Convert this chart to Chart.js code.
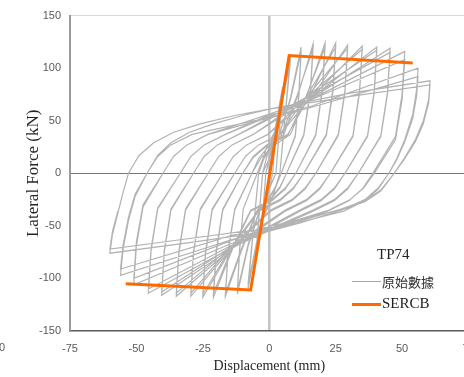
<!DOCTYPE html>
<html lang="zh-Hant">
<head>
  <meta charset="UTF-8">
  <title>TP74 hysteresis</title>
  <script src="https://cdn.jsdelivr.net/npm/chart.js"></script>
  <style>
    body {
      margin: 0;
      width: 464px;
      height: 377px;
      overflow: hidden;
      background: #fff;
      position: relative;
    }
    #wrap {
      position: absolute;
      left: 0;
      top: 0;
      width: 490px;
      height: 377px;
    }
    .legend {
      position: absolute;
      font-family: 'Liberation Serif', serif;
      color: #222;
      white-space: nowrap;
    }
    .swatch {
      position: absolute;
      width: 29px;
    }
    .stray {
      position: absolute;
      left: -1px;
      top: 341px;
      font: 11px 'Liberation Sans', sans-serif;
      color: #595959;
    }
  </style>
</head>
<body>

<div id="wrap"><canvas id="chart" width="490" height="377"></canvas></div>

<div class="stray">0</div>
<div class="legend" style="left:377px; top:246px; font-size:15px;">TP74</div>
<div class="swatch" style="left:352px; top:281px; border-top:1px solid #a6a6a6;"></div>
<div class="legend" style="left:382px; top:272px; font-size:13px; font-family:'Noto Sans CJK TC', sans-serif; color:#333;">原始數據</div>
<div class="swatch" style="left:352px; top:303px; border-top:3px solid #ff6a00;"></div>
<div class="legend" style="left:382px; top:295px; font-size:15px;">SERCB</div>

<script>
// test record (displacement mm, lateral force kN)
const rawLoop = [
  [0,0],
  // 2.5 mm
  [2.5,45],[1.3,0],[-2.5,-42],[-1.3,0],[2.5,43],[1.3,0],[-2.5,-40],[-1.3,0],
  // 5 mm
  [0.5,18],[5,82],[2.5,0],[-0.5,-18],[-5,-78],[-2.5,0],[0.5,17],[5,78],[2.5,0],[-0.5,-17],[-5,-75],[-2.5,0],
  // 8 mm
  [0,25],[3,45],[8,112],[4,0],[1,-25],[-3,-45],[-8,-110],[-4,0],[-1,25],[3,44],[8,108],[4,0],[1,-24],[-3,-44],[-8,-106],[-4,0],
  // 12 mm
  [-2,14],[0.5,26],[4,38],[8,72],[12,120],[11.2,78],[9.8,36],[4.5,0],[2.5,-13],[0,-24],[-3.5,-35],[-8,-70],[-12,-115],
  [-11.2,-75],[-9.8,-34],[-4.5,0],[-2.5,13],[0,24],[3.5,35],[8,70],[12,116],[11.2,75],[9.8,35],[4.5,0],[2.5,-12],[0,-23],[-3.5,-34],[-8,-68],[-12,-112],
  [-11.2,-73],[-9.8,-34],[-4.5,0],
  // 16.5 mm
  [-2,14],[1,25],[5.5,37],[11,76],[16.5,123],[15.5,80],[13,37],[6.5,0],[4,-14],[0.5,-25],[-4.5,-36],[-10.5,-74],[-16.5,-117],
  [-15.5,-76],[-13,-35],[-6.5,0],[-4,14],[-0.5,25],[4.5,36],[10.5,74],[16.5,119],[15.5,77],[13,36],[6.5,0],[4,-13],[0.5,-24],[-4.5,-35],[-10.5,-72],[-16.5,-114],
  [-15.5,-74],[-13,-34],[-6.5,0],
  // 21 mm
  [-3,15],[1.5,26],[8,37],[14.5,77],[21,124],[20,81],[17.5,37],[10,0],[6,-15],[1,-26],[-7,-36],[-14,-73],[-21,-118],
  [-20,-77],[-17.5,-35],[-10,0],[-6,15],[-1,26],[7,36],[14,74],[21,120],[20,78],[17.5,36],[10,0],[6,-14],[1,-25],[-7,-35],[-14,-71],[-21,-114],
  [-20,-74],[-17.5,-34],[-10,0],
  // 25 mm
  [-6,16],[-1,27],[7,37],[16,77],[25,124],[24,81],[21.5,37],[13,0],[9,-15],[4,-26],[-4,-36],[-14.5,-73],[-25,-118],
  [-24,-77],[-21.5,-35],[-13,0],[-9,16],[-4,27],[4,37],[14.5,75],[25,120],[24,78],[21.5,36],[13,0],[9,-14],[4,-25],[-4,-35],[-14.5,-71],[-25,-115],
  [-24,-75],[-21.5,-34],[-13,0],
  // 29.5 mm
  [-9,16],[-4,27],[4,37],[17,76],[29.5,122],[28.5,79],[26,37],[17.5,0],[13.5,-15],[8.5,-26],[0.5,-36],[-14.5,-72],[-29.5,-117],
  [-28.5,-76],[-26,-35],[-17.5,0],[-13.5,16],[-8.5,27],[-0.5,37],[14.5,74],[29.5,119],[28.5,77],[26,36],[17.5,0],[13.5,-14],[8.5,-25],[0.5,-35],[-14.5,-70],[-29.5,-114],
  [-28.5,-74],[-26,-34],[-17.5,0],
  // 35 mm
  [-13.5,16],[-8.5,27],[-0.5,37],[17,75],[35,121],[34,79],[31.5,36],[23,0],[19,-15],[14,-26],[6,-36],[-14.5,-72],[-35,-117],
  [-34,-76],[-31.5,-35],[-23,0],[-19,16],[-14,27],[-6,37],[14.5,73],[35,118],[34,77],[31.5,35],[23,0],[19,-14],[14,-25],[6,-35],[-14.5,-70],[-35,-114],
  [-34,-74],[-31.5,-34],[-23,0],
  // 40.5 mm
  [-19,16],[-14,27],[-6,37],[17,74],[40.5,120],[39.5,78],[37,36],[28.5,0],[24.5,-15],[19.5,-26],[11.5,-36],[-14.5,-72],[-40.5,-116],
  [-39.5,-75],[-37,-35],[-28.5,0],[-24.5,16],[-19.5,27],[-11.5,37],[14.5,73],[40.5,117],[39.5,76],[37,35],[28.5,0],[24.5,-14],[19.5,-25],[11.5,-35],[-14.5,-70],[-40.5,-113],
  [-39.5,-73],[-37,-34],[-28.5,0],
  // 45.5 mm
  [-24.5,16],[-19.5,27],[-11.5,37],[17,73],[45.5,119],[44.5,77],[42,36],[33.5,0],[29.5,-15],[24.5,-26],[16.5,-36],[-14.5,-71],[-45.5,-114],
  [-44.5,-74],[-42,-34],[-33.5,0],[-29.5,16],[-24.5,27],[-16.5,37],[14.5,72],[45.5,115],[44.5,75],[42,35],[33.5,0],[29.5,-14],[24.5,-25],[16.5,-35],[-14.5,-69],[-45.5,-110],
  [-44.5,-72],[-42,-33],[-33.5,0],
  // 51 mm
  [-29.5,16],[-24.5,27],[-16.5,37],[17,72],[51,116],[50,75],[47.5,35],[39,0],[35,-15],[30,-26],[22,-36],[-14.5,-67],[-51,-106],
  [-50,-69],[-47.5,-32],[-40,0],[-36,16],[-31,27],[-23,37],[14,68],[51,108],[50,70],[47.5,32],[39.5,0],[35.5,-14],[30.5,-25],[22.5,-35],[-14.5,-64],[-51,-100],
  [-50,-65],[-47.5,-30],[-40,0],
  // 56 mm
  [-36,16],[-31,27],[-23,37],[16,64],[56,100],[55.5,80],[54,56],[51,32],[48,14],[45,0],[41,-15],[36,-26],[28,-36],[-14,-63],[-56,-97],
  [-55,-72],[-53,-45],[-50.5,-22],[-46,0],[-42,16],[-37,27],[-29,37],[12,60],[56,92],[55.5,74],[54,52],[51,30],[48,13],[45,0],[41,-14],[36,-25],[28,-34],[-14,-59],[-56,-91],
  [-55,-68],[-53,-42],[-50.5,-20],[-46,0],
  // 60.5 mm
  [-42,17],[-37,29],[-30,39],[-21,47],[-10,55],[0,61],[30,76],[60.5,88],[60,70],[58,50],[55,32],[51,15],[47,0],[42,-17],[36,-27],[27,-35],[12,-47],[0,-55],[-30,-66],[-60,-76],
  [-59,-58],[-57,-38],[-55,-18],[-53,0],[-49,17],[-43.5,29],[-36,39],[-26,47],[-13,55],[0,61],[30,73],[60.5,84],[60,67],[58,47],[55,30],[51,14],[47,0],[42,-16],[36,-26],[27,-34],[12,-45],[0,-52],[-30,-62],[-60,-72],
  [-59,-55],[-57,-36]
];

// SERCB backbone
const sercbDisp = [-54, -7, 7.5, 54];
const sercbForce = [-105, -111, 112, 105];

const xTicks = [-75, -50, -25, 0, 25, 50, 75];
const yTicks = [-150, -100, -50, 0, 50, 100, 150];

Chart.defaults.font.family = "'Liberation Sans', sans-serif";
Chart.defaults.font.size = 11;
Chart.defaults.color = '#595959';

const ctx = document.getElementById('chart').getContext('2d');
new Chart(ctx, {
  type: 'scatter',
  data: {
    datasets: [
      {
        label: 'SERCB',
        data: sercbDisp.map((x, i) => ({ x: x, y: sercbForce[i] })),
        showLine: true,
        borderColor: '#ff6a00',
        borderWidth: 3,
        pointRadius: 0,
        order: 0
      },
      {
        label: '原始數據',
        data: rawLoop.map(p => ({ x: p[0], y: p[1] })),
        showLine: true,
        borderColor: '#b3b3b3',
        borderWidth: 1.2,
        pointRadius: 0,
        order: 1
      }
    ]
  },
  options: {
    responsive: false,
    animation: false,
    layout: { padding: { top: 15, right: 21.5, left: 0, bottom: 0 } },
    plugins: {
      legend: { display: false },
      tooltip: { enabled: false }
    },
    scales: {
      x: {
        type: 'linear',
        min: -75,
        max: 75,
        afterBuildTicks: s => { s.ticks = xTicks.map(v => ({ value: v })); },
        afterFit: s => { s.height = 46; },
        ticks: { padding: 11 },
        grid: {
          drawTicks: false,
          color: c => (c.tick && c.tick.value === 0) ? '#c4c4c4' : 'rgba(0,0,0,0)',
          lineWidth: c => (c.tick && c.tick.value === 0) ? 2.5 : 1
        },
        border: { color: '#595959', width: 1.5 },
        title: {
          display: true,
          text: 'Displacement (mm)',
          color: '#262626',
          font: { family: "'Liberation Serif', serif", size: 14 },
          padding: { top: 0, bottom: 2 }
        }
      },
      y: {
        min: -150,
        max: 150,
        afterBuildTicks: s => { s.ticks = yTicks.map(v => ({ value: v })); },
        afterFit: s => { s.width = 70; },
        ticks: { padding: 9 },
        grid: {
          drawTicks: false,
          color: c => {
            if (!c.tick) return 'rgba(0,0,0,0)';
            if (c.tick.value === 150) return '#d9d9d9';
            if (c.tick.value === 0) return '#767676';
            return 'rgba(0,0,0,0)';
          }
        },
        border: { color: '#9a9a9a', width: 2 },
        title: {
          display: true,
          text: 'Lateral Force (kN)',
          color: '#262626',
          font: { family: "'Liberation Serif', serif", size: 17 },
          padding: { top: 23, bottom: 0 }
        }
      }
    }
  }
});
</script>

</body>
</html>
